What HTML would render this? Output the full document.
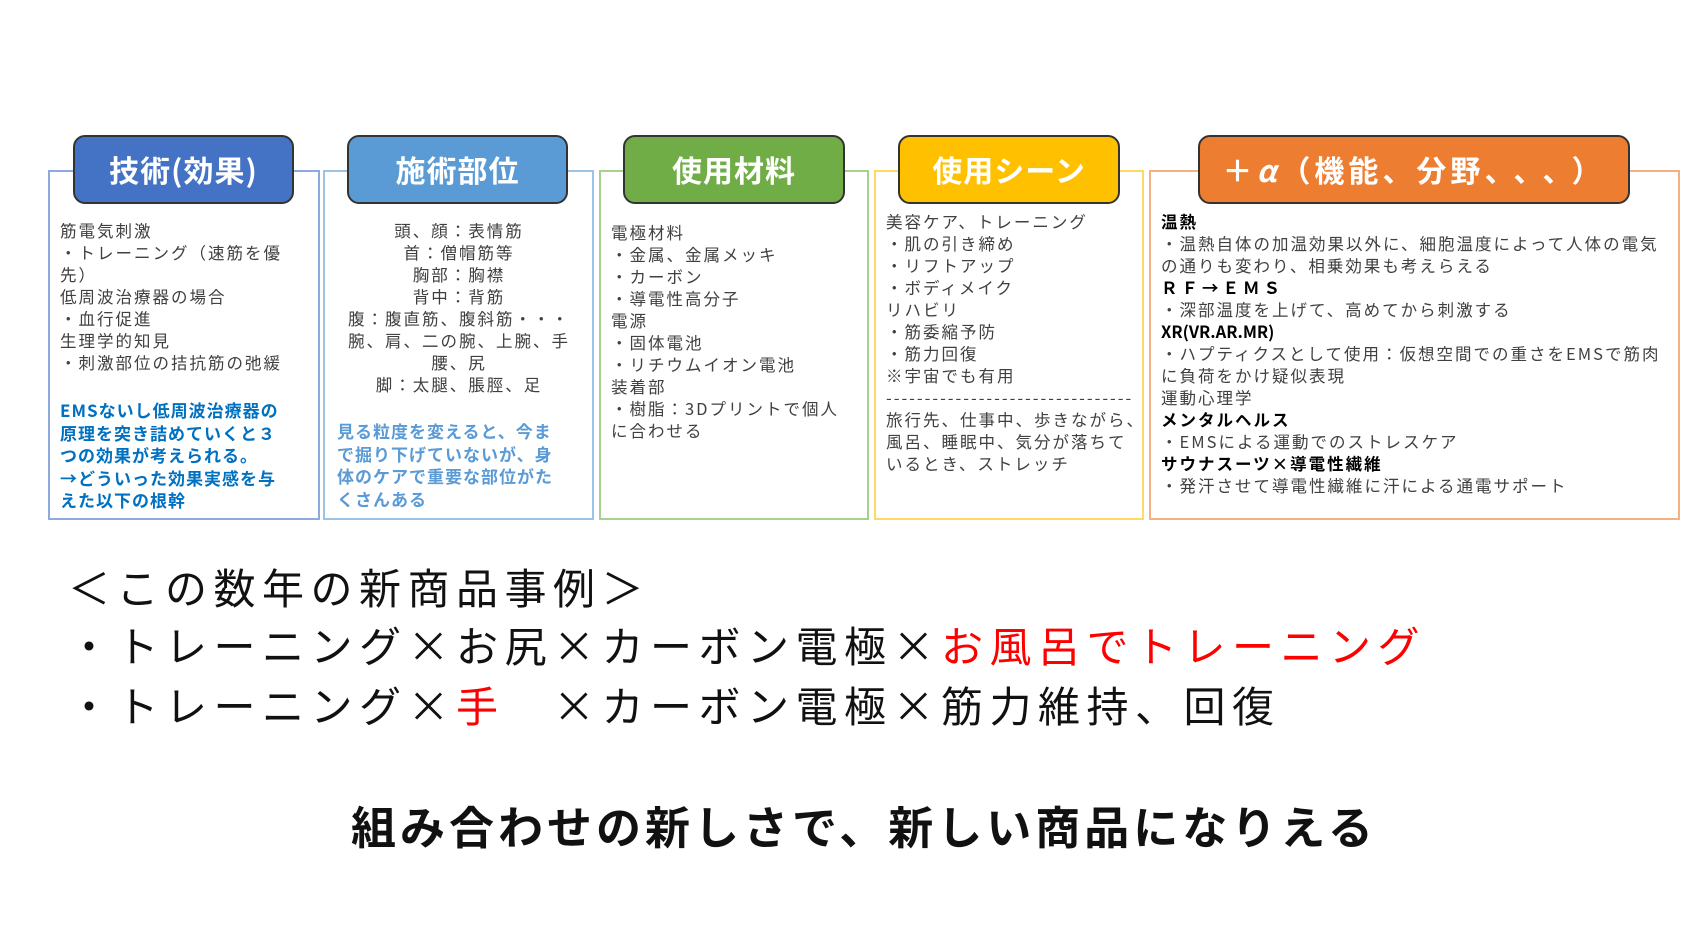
<!DOCTYPE html>
<html><head><meta charset="utf-8"><style>
body{margin:0;width:1685px;height:948px;background:#fff;position:relative;overflow:hidden;font-family:"Noto Sans CJK JP","Liberation Sans",sans-serif;}
.box{position:absolute;top:170px;height:350px;box-sizing:border-box;border:2px solid;}
.hd{position:absolute;top:135px;height:69px;box-sizing:border-box;border:2px solid #333;border-radius:12px;color:#fff;font-weight:bold;font-size:30px;text-align:center;line-height:64px;letter-spacing:1px;}
.t{position:absolute;font-size:16.5px;line-height:22px;letter-spacing:2px;color:#404040;white-space:pre;}
.bl{color:#0070C0;font-weight:bold;font-size:17px;line-height:22.5px;letter-spacing:1px;}
.lb{color:#5B9BD5;}
.big{position:absolute;left:68px;font-size:42px;line-height:60px;letter-spacing:6.5px;color:#111;white-space:pre;}
</style></head><body>
<div class="box" style="left:48px;width:272px;border-color:#8EA9DB"></div>
<div class="box" style="left:323px;width:271px;border-color:#9DC3E6"></div>
<div class="box" style="left:599px;width:270px;border-color:#A9D18E"></div>
<div class="box" style="left:874px;width:270px;border-color:#FFD966"></div>
<div class="box" style="left:1149px;width:531px;border-color:#F4B183"></div>
<div class="hd" style="left:73px;width:221px;background:#4472C4">技術(効果)</div>
<div class="hd" style="left:347px;width:221px;background:#5B9BD5">施術部位</div>
<div class="hd" style="left:623px;width:222px;background:#70AD47">使用材料</div>
<div class="hd" style="left:898px;width:222px;background:#FFC000">使用シーン</div>
<div class="hd" style="left:1198px;width:432px;background:#ED7D31;letter-spacing:4px">＋<i>α</i>（機能、分野<span style="letter-spacing:14px">、、、</span>）</div>

<div class="t" style="left:60px;top:219px">筋電気刺激
・トレーニング（速筋を優
先）
低周波治療器の場合
・血行促進
生理学的知見
・刺激部位の拮抗筋の弛緩</div>
<div class="t bl" style="left:60px;top:399px">EMSないし低周波治療器の
原理を突き詰めていくと３
つの効果が考えられる。
→どういった効果実感を与
えた以下の根幹</div>

<div class="t" style="left:326px;width:266px;top:219px;text-align:center">頭、顔：表情筋
首：僧帽筋等
胸部：胸襟
背中：背筋
腹：腹直筋、腹斜筋・・・
腕、肩、二の腕、上腕、手
腰、尻
脚：太腿、脹脛、足</div>
<div class="t bl lb" style="left:337px;top:420px">見る粒度を変えると、今ま
で掘り下げていないが、身
体のケアで重要な部位がた
くさんある</div>

<div class="t" style="left:611px;top:221px">電極材料
・金属、金属メッキ
・カーボン
・導電性高分子
電源
・固体電池
・リチウムイオン電池
装着部
・樹脂：3Dプリントで個人
に合わせる</div>

<div class="t" style="left:886px;top:210px">美容ケア、トレーニング
・肌の引き締め
・リフトアップ
・ボディメイク
リハビリ
・筋委縮予防
・筋力回復
※宇宙でも有用
--------------------------------
旅行先、仕事中、歩きながら、
風呂、睡眠中、気分が落ちて
いるとき、ストレッチ</div>

<div class="t" style="left:1161px;top:210px;letter-spacing:2px"><b style="color:#000">温熱</b>
・温熱自体の加温効果以外に、細胞温度によって人体の電気
の通りも変わり、相乗効果も考えらえる
<b style="color:#000;letter-spacing:4px">ＲＦ→ＥＭＳ</b>
・深部温度を上げて、高めてから刺激する
<b style="color:#000;letter-spacing:0">XR(VR.AR.MR)</b>
・ハプティクスとして使用：仮想空間での重さをEMSで筋肉
に負荷をかけ疑似表現
運動心理学
<b style="color:#000">メンタルヘルス</b>
・EMSによる運動でのストレスケア
<b style="color:#000">サウナスーツ×導電性繊維</b>
・発汗させて導電性繊維に汗による通電サポート</div>

<div class="big" style="top:557px">＜この数年の新商品事例＞</div>
<div class="big" style="top:615px">・トレーニング×お尻×カーボン電極×<span style="color:#FF0000">お風呂でトレーニング</span></div>
<div class="big" style="top:675px">・トレーニング×<span style="color:#FF0000">手</span>　×カーボン電極×筋力維持、回復</div>
<div style="position:absolute;left:351px;top:795px;font-size:45px;line-height:60px;font-weight:bold;letter-spacing:4px;color:#111;white-space:pre">組み合わせの新しさで、新しい商品になりえる</div>
</body></html>
